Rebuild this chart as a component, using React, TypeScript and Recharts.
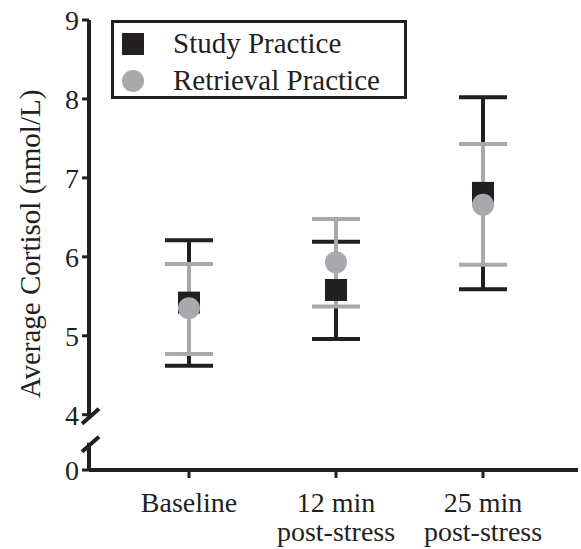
import {
  ComposedChart,
  Line,
  XAxis,
  YAxis,
  ErrorBar,
  Legend,
  ReferenceArea,
} from "recharts";

/* ================= DATA ================= */

const phases = ["Baseline", "12 min post-stress", "25 min post-stress"];

const studyMean = [5.42, 5.58, 6.81];
const studyLow = [4.62, 4.96, 5.59];
const studyHigh = [6.21, 6.19, 8.02];

const retrievalMean = [5.35, 5.93, 6.66];
const retrievalLow = [4.77, 5.37, 5.9];
const retrievalHigh = [5.91, 6.48, 7.43];

const yTickLabels = [0, 4, 5, 6, 7, 8, 9];

const seriesNames = ["Study Practice", "Retrieval Practice"];

/* ================= BROKEN AXIS ================= */

// values between 0 and 4 are squeezed into a short gap
const BREAK_AT = 4;
const GAP = 0.7;
const STUB = 0.32;

const toAxis = (v: number) => (v >= BREAK_AT ? v - BREAK_AT + GAP : (v / BREAK_AT) * GAP);
const fromAxis = (a: number) => (a >= GAP ? a - GAP + BREAK_AT : (a / GAP) * BREAK_AT);

const data = phases.map((phase, i) => ({
  phase,
  study: toAxis(studyMean[i]),
  studyErr: [studyMean[i] - studyLow[i], studyHigh[i] - studyMean[i]],
  retrieval: toAxis(retrievalMean[i]),
  retrievalErr: [retrievalMean[i] - retrievalLow[i], retrievalHigh[i] - retrievalMean[i]],
}));

/* ================= STYLE ================= */

const BLACK = "#231f20";
const GRAY = "#a7a9ac";
const FONT = "'Liberation Serif', 'Times New Roman', serif";

const SquareDot = (props: any) => {
  const { cx, cy } = props;
  if (cx == null || cy == null) return null;
  return <rect x={cx - 11} y={cy - 11} width={22} height={22} fill={BLACK} />;
};

const CircleDot = (props: any) => {
  const { cx, cy } = props;
  if (cx == null || cy == null) return null;
  return <circle cx={cx} cy={cy} r={11} fill={GRAY} />;
};

const PhaseTick = (props: any) => {
  const { x, y, payload } = props;
  const m = /^(\d+ min) (.*)$/.exec(payload.value);
  const lines = m ? [m[1], m[2]] : [payload.value];
  return (
    <text x={x} y={y} textAnchor="middle" fill={BLACK} fontSize={28} fontFamily={FONT}>
      {lines.map((l, i) => (
        <tspan key={i} x={x} dy={i === 0 ? 32 : 29}>
          {l}
        </tspan>
      ))}
    </text>
  );
};

// y axis line with the break marks
const UpperAxis = (props: any) => {
  const { x, y, height } = props;
  const b = y + height;
  return (
    <g stroke={BLACK} strokeWidth={4}>
      <line x1={x} y1={y} x2={x} y2={b + 2} />
      <line x1={x - 7} y1={b + 9} x2={x + 10} y2={b - 6} />
    </g>
  );
};

const LowerAxis = (props: any) => {
  const { x, y, height } = props;
  return (
    <g stroke={BLACK} strokeWidth={4}>
      <line x1={x} y1={y + height} x2={x} y2={y - 2} />
      <line x1={x - 7} y1={y + 7} x2={x + 10} y2={y - 8} />
    </g>
  );
};

const LegendBox = () => (
  <div style={legendBox}>
    {seriesNames.map((name, i) => (
      <div key={name} style={legendRow}>
        <span
          style={{
            width: 22,
            height: 22,
            background: i === 0 ? BLACK : GRAY,
            borderRadius: i === 0 ? 0 : "50%",
            display: "inline-block",
            marginRight: 29,
          }}
        />
        <span>{name}</span>
      </div>
    ))}
  </div>
);

export default function App() {
  return (
    <div style={page}>
      <ComposedChart
        width={581}
        height={549}
        data={data}
        margin={{ top: 20, right: 3, bottom: 0, left: 0 }}
      >
        <XAxis
          dataKey="phase"
          height={79}
          padding={{ left: 100, right: 95 }}
          axisLine={{ stroke: BLACK, strokeWidth: 4 }}
          tickLine={{ stroke: BLACK, strokeWidth: 3 }}
          tickSize={8}
          tick={<PhaseTick />}
          interval={0}
        />
        {/* hidden frame axis, only used to place the y axis line */}
        <XAxis xAxisId="frame" type="number" domain={[0, 1]} hide />
        <YAxis
          width={89}
          type="number"
          domain={[0, toAxis(9)]}
          ticks={yTickLabels.map(toAxis)}
          tickFormatter={(v: number) => String(Math.round(fromAxis(v)))}
          axisLine={false}
          tickLine={{ stroke: BLACK, strokeWidth: 3 }}
          tickSize={7}
          tickMargin={3}
          tick={{ fill: BLACK, fontSize: 28, fontFamily: FONT }}
          label={({ viewBox }: any) => (
            <text
              x={viewBox.x + 40}
              y={viewBox.y + viewBox.height / 2 - 1}
              transform={`rotate(-90, ${viewBox.x + 40}, ${viewBox.y + viewBox.height / 2 - 1})`}
              textAnchor="middle"
              fill={BLACK}
              fontSize={29}
              fontFamily={FONT}
            >
              Average Cortisol (nmol/L)
            </text>
          )}
        />

        <ReferenceArea
          xAxisId="frame"
          x1={0}
          x2={1}
          y1={toAxis(BREAK_AT)}
          y2={toAxis(9)}
          shape={<UpperAxis />}
        />
        <ReferenceArea xAxisId="frame" x1={0} x2={1} y1={0} y2={STUB} shape={<LowerAxis />} />

        <Line
          dataKey="study"
          name={seriesNames[0]}
          stroke="none"
          dot={<SquareDot />}
          activeDot={false}
          isAnimationActive={false}
        >
          <ErrorBar
            dataKey="studyErr"
            direction="y"
            width={24}
            stroke={BLACK}
            strokeWidth={4}
            isAnimationActive={false}
          />
        </Line>
        <Line
          dataKey="retrieval"
          name={seriesNames[1]}
          stroke="none"
          dot={<CircleDot />}
          activeDot={false}
          isAnimationActive={false}
        >
          <ErrorBar
            dataKey="retrievalErr"
            direction="y"
            width={24}
            stroke={GRAY}
            strokeWidth={4}
            isAnimationActive={false}
          />
        </Line>

        <Legend
          layout="horizontal"
          verticalAlign="middle"
          align="center"
          wrapperStyle={{ left: 111, top: 20, width: "auto", height: "auto" }}
          content={() => <LegendBox />}
        />
      </ComposedChart>
    </div>
  );
}

/* ================= STYLES ================= */

const page = {
  position: "absolute" as const,
  left: 0,
  top: 0,
  width: 581,
  height: 549,
  background: "#ffffff",
};

const legendBox = {
  boxSizing: "border-box" as const,
  width: 296,
  height: 79,
  border: `3px solid ${BLACK}`,
  paddingLeft: 8,
  paddingTop: 2,
  fontFamily: FONT,
  fontSize: 29,
  color: BLACK,
  background: "#ffffff",
};

const legendRow = {
  display: "flex",
  alignItems: "center",
  height: 37,
};
